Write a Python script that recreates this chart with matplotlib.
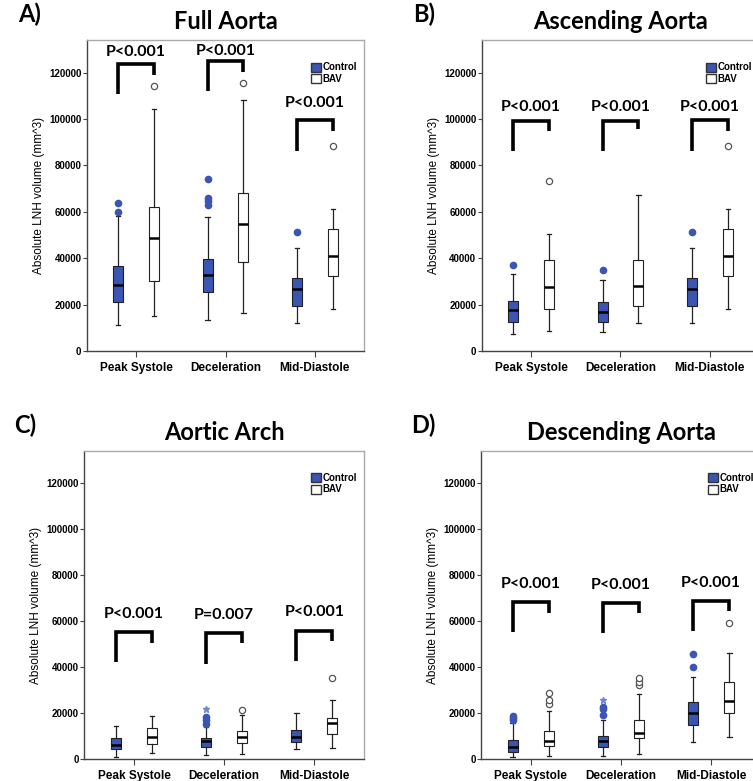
import matplotlib.pyplot as plt
from matplotlib.patches import Patch

phases = ["Peak Systole", "Deceleration", "Mid-Diastole"]
yticks = [0, 20000, 40000, 60000, 80000, 100000, 120000]

# box stats per phase: (low whisker, Q1, median, Q3, high whisker)
full_control = [(11000, 21200, 28600, 36700, 58400),
                (13300, 25600, 32900, 39500, 57700),
                (11900, 19600, 26900, 31500, 44400)]
full_bav = [(15200, 30100, 48700, 61900, 104500),
            (16200, 38400, 54800, 68000, 108400),
            (18000, 32200, 40800, 52700, 61000)]
full_control_out = [[60100, 63900], [63000, 64500, 66000, 74000], [51300]]
full_bav_out = [[114400], [115600], [88500]]
full_control_star = [[], [], []]
full_pvals = ["P<0.001", "P<0.001", "P<0.001"]
# bracket: left leg bottom, top, right leg bottom, text height
full_brackets = [(110700, 123600, 119000, 129000),
                 (112100, 125000, 120400, 129300),
                 (86300, 99700, 95000, 107100)]

asc_control = [(7200, 12300, 17600, 21500, 33100),
               (8000, 12600, 16900, 21000, 30500),
               (11900, 19600, 26900, 31500, 44400)]
asc_bav = [(8600, 18300, 27600, 39400, 50500),
           (11900, 19300, 27900, 39100, 67400),
           (18000, 32200, 40800, 52700, 61000)]
asc_control_out = [[36900], [35100], [51300]]
asc_bav_out = [[73300], [], [88500]]
asc_control_star = [[], [], []]
asc_pvals = ["P<0.001", "P<0.001", "P<0.001"]
asc_brackets = [(86300, 99200, 95000, 105000),
                (86300, 99200, 95700, 105000),
                (86300, 99500, 95000, 105000)]

arch_control = [(1150, 4500, 6000, 9100, 14500),
                (1900, 5500, 7900, 9400, 14100),
                (4300, 7600, 9800, 12700, 20200)]
arch_bav = [(2900, 6600, 9800, 13400, 18700),
            (2200, 7200, 9800, 12200, 19200),
            (4800, 11200, 15600, 18000, 25600)]
arch_control_out = [[], [15500, 17000, 18400], []]
arch_bav_out = [[], [21600], [35400]]
arch_control_star = [[], [21800], []]
arch_pvals = ["P<0.001", "P=0.007", "P<0.001"]
arch_brackets = [(42200, 55200, 50400, 63100),
                 (41500, 54700, 50400, 62800),
                 (42600, 55900, 51300, 63800)]

desc_control = [(1150, 3300, 5200, 8400, 15600),
                (1600, 5500, 7900, 10200, 17000),
                (7300, 15100, 19900, 24900, 35700)]
desc_bav = [(1600, 5900, 7900, 12400, 21000),
            (2300, 9400, 11500, 17000, 28200),
            (9500, 20200, 25200, 33600, 46200)]
desc_control_out = [[17000, 18000, 19000], [19200, 22000, 22800], [40000, 45800]]
desc_bav_out = [[23800, 25600, 28800], [32200, 33700, 35200], [59100]]
desc_control_star = [[], [25600], []]
desc_pvals = ["P<0.001", "P<0.001", "P<0.001"]
desc_brackets = [(55200, 68400, 63400, 76100),
                 (54700, 67700, 63400, 75800),
                 (55600, 68600, 64500, 76600)]

BLUE = "#3a55b4"


def make_stats(rows, outs):
	stats = []
	for r, o in zip(rows, outs):
		stats.append(dict(whislo=r[0], q1=r[1], med=r[2], q3=r[3], whishi=r[4], fliers=o))
	return stats


def draw(ax, letter, title, control, bav, c_out, b_out, c_star, pvals, brackets):
	pos = range(len(phases))
	off = 0.2
	ax.bxp(make_stats(control, c_out), positions=[p - off for p in pos], widths=0.11,
	       capwidths=0.05, patch_artist=True, manage_ticks=False,
	       boxprops=dict(facecolor=BLUE, edgecolor="#222222", linewidth=0.8),
	       medianprops=dict(color="black", linewidth=1.8),
	       whiskerprops=dict(color="#222222", linewidth=0.9),
	       capprops=dict(color="#222222", linewidth=0.9),
	       flierprops=dict(marker="o", markerfacecolor=BLUE, markeredgecolor=BLUE, markersize=4.5))
	ax.bxp(make_stats(bav, b_out), positions=[p + off for p in pos], widths=0.11,
	       capwidths=0.05, patch_artist=True, manage_ticks=False,
	       boxprops=dict(facecolor="white", edgecolor="#222222", linewidth=0.8),
	       medianprops=dict(color="black", linewidth=1.8),
	       whiskerprops=dict(color="#222222", linewidth=0.9),
	       capprops=dict(color="#222222", linewidth=0.9),
	       flierprops=dict(marker="o", markerfacecolor="white", markeredgecolor="#555555",
	                       markersize=4.5, markeredgewidth=0.9))
	for i, stars in enumerate(c_star):
		if stars:
			ax.plot([i - off] * len(stars), stars, ls="none", marker="*", color="#6f86d6", markersize=4.5)

	for i, (lb, top, rb, ty) in enumerate(brackets):
		ax.plot([i - off, i - off, i + off, i + off], [lb, top, top, rb], color="black",
		        linewidth=2.6, solid_joinstyle="miter", solid_capstyle="butt")
		ax.text(i, ty, pvals[i], ha="center", va="center", fontsize=11.5,
		        fontweight="bold", family="Lato")

	ax.set_xlim(-0.55, 2.55)
	ax.set_ylim(0, 134000)
	ax.set_xticks(list(pos))
	ax.set_xticklabels(phases, fontsize=8.5, fontweight="bold", family="Liberation Sans")
	ax.set_yticks(yticks)
	ax.set_yticklabels([str(v) for v in yticks], fontsize=7, fontweight="bold", family="Liberation Sans")
	ax.tick_params(axis="y", length=3, width=0.8, color="#444444", pad=1)
	ax.tick_params(axis="x", length=4, width=0.8, color="#444444", pad=4)
	ax.set_ylabel("Absolute LNH volume (mm^3)", fontsize=8.5, family="Liberation Sans", labelpad=3)
	for s in ["left", "bottom"]:
		ax.spines[s].set_color("#444444")
		ax.spines[s].set_linewidth(1.0)
	for s in ["top", "right"]:
		ax.spines[s].set_color("#aaaaaa")
		ax.spines[s].set_linewidth(1.0)

	ax.set_title(title, fontsize=17, fontweight="bold", family="Lato", pad=8)
	ax.text(-0.25, 1.045, letter, transform=ax.transAxes, fontsize=17, fontweight="bold",
	        family="Lato", ha="left", va="bottom")

	handles = [Patch(facecolor=BLUE, edgecolor="#333333", label="Control"),
	           Patch(facecolor="white", edgecolor="#333333", label="BAV")]
	ax.legend(handles=handles, loc="upper right", bbox_to_anchor=(1.0, 0.95), frameon=False,
	          prop=dict(weight="bold", size=7, family="Liberation Sans"),
	          handlelength=1.0, handleheight=1.0, handletextpad=0.2, labelspacing=0.15,
	          borderaxespad=0.3)


def main():
	fig = plt.figure(figsize=(7.53, 7.81), dpi=100)
	ax_a = fig.add_axes([0.1155, 0.5506, 0.368, 0.398])
	ax_b = fig.add_axes([0.640, 0.5506, 0.368, 0.398])
	ax_c = fig.add_axes([0.112, 0.0278, 0.3714, 0.395])
	ax_d = fig.add_axes([0.639, 0.0278, 0.3714, 0.395])

	draw(ax_a, "A)", "Full Aorta", full_control, full_bav, full_control_out, full_bav_out,
	     full_control_star, full_pvals, full_brackets)
	draw(ax_b, "B)", "Ascending Aorta", asc_control, asc_bav, asc_control_out, asc_bav_out,
	     asc_control_star, asc_pvals, asc_brackets)
	draw(ax_c, "C)", "Aortic Arch", arch_control, arch_bav, arch_control_out, arch_bav_out,
	     arch_control_star, arch_pvals, arch_brackets)
	draw(ax_d, "D)", "Descending Aorta", desc_control, desc_bav, desc_control_out, desc_bav_out,
	     desc_control_star, desc_pvals, desc_brackets)

	fig.savefig("out.png", dpi=100)


if __name__ == "__main__":
	main()
